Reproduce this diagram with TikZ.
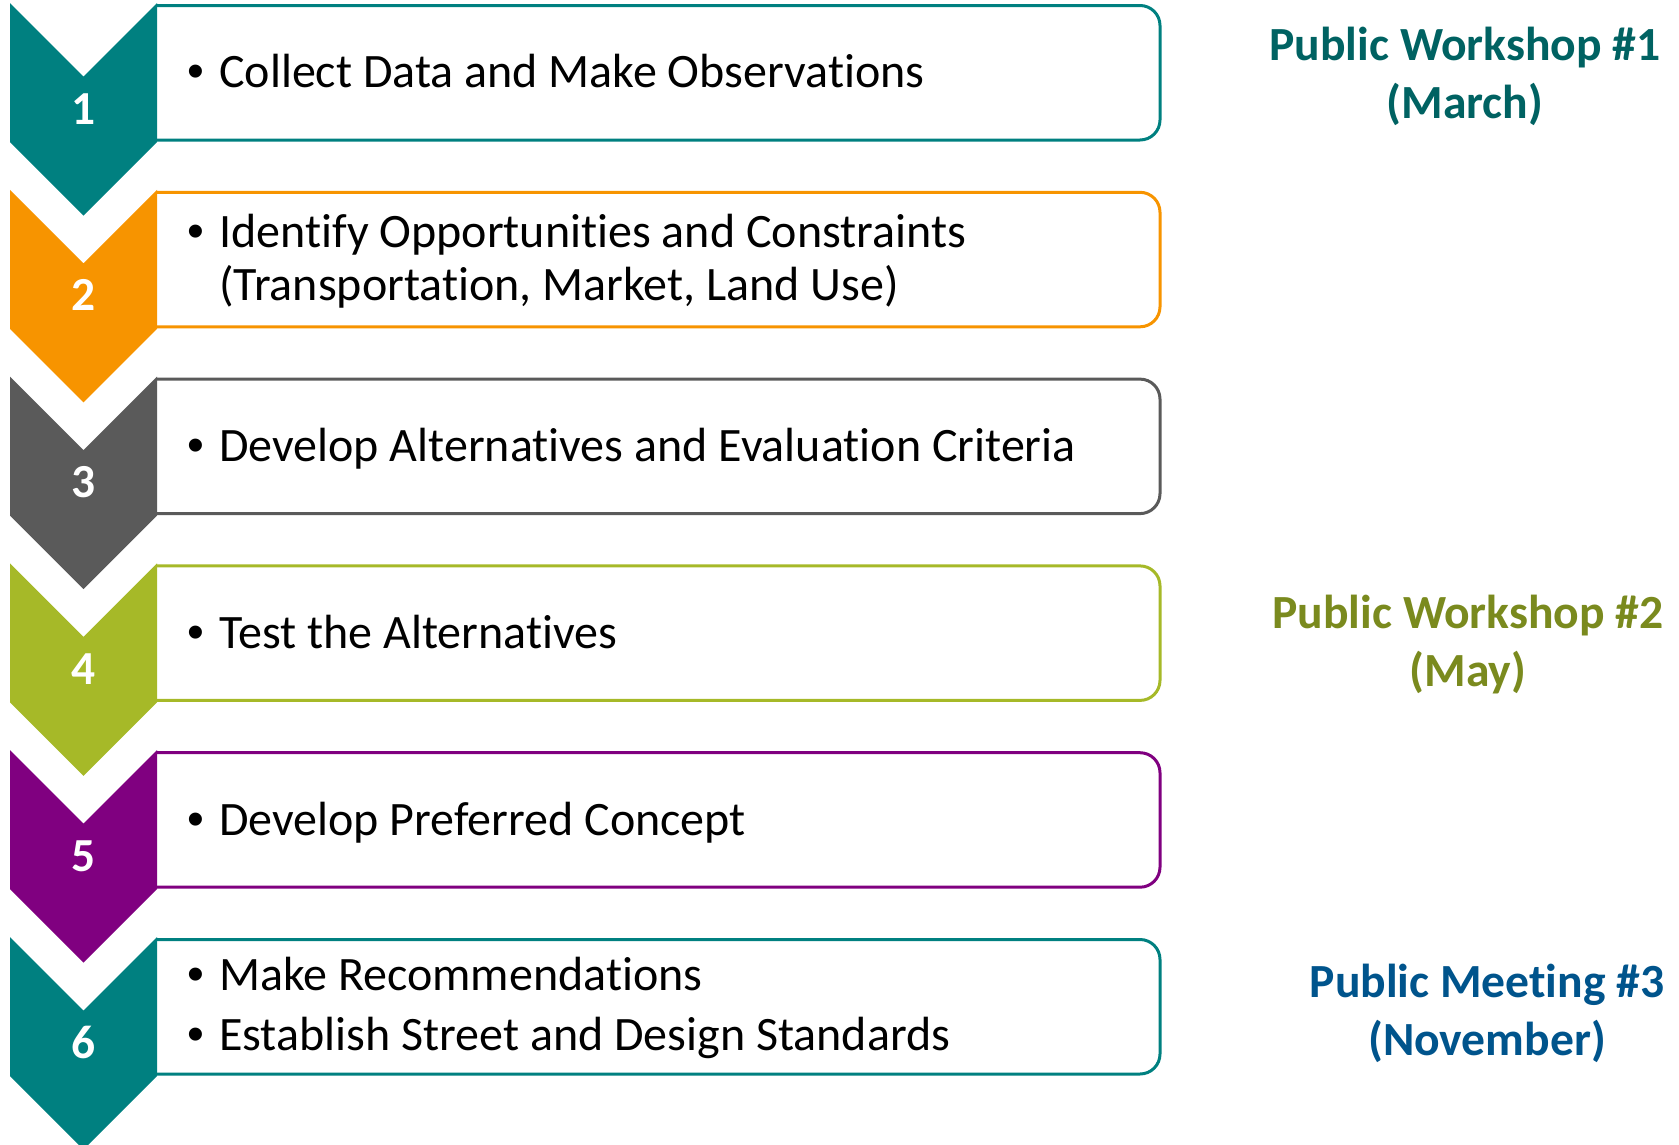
\documentclass[tikz,border=0pt]{standalone}
\usepackage{fontspec}
\setmainfont{Carlito}[Ligatures=NoCommon]
\newfontfamily\bulletfont{Liberation Sans}

\definecolor{stepteal}{RGB}{0,128,128}
\definecolor{steporange}{RGB}{247,148,0}
\definecolor{stepgray}{RGB}{90,90,90}
\definecolor{stepgreen}{RGB}{166,185,40}
\definecolor{steppurple}{RGB}{128,0,128}
\definecolor{labteal}{RGB}{0,98,98}
\definecolor{labolive}{RGB}{122,138,30}
\definecolor{labblue}{RGB}{0,84,140}

\tikzset{
  stepframe/.style={draw=#1, line width=3pt, rounded corners=20pt},
  stepnum/.style={text=white, inner sep=0pt, anchor=base,
    font=\fontsize{47.4}{57}\selectfont\bfseries},
  itemtext/.style={inner sep=0pt, anchor=base west, text=black,
    font=\fontsize{48}{57}\selectfont},
  itembullet/.style={inner sep=0pt, anchor=base, text=black,
    font=\bulletfont\fontsize{48}{57}\selectfont},
  meetlabel/.style={inner sep=0pt, anchor=base,
    font=\fontsize{47.6}{57}\selectfont\bfseries}
}

\begin{document}
\begin{tikzpicture}[x=1pt,y=-1pt]
\useasboundingbox (0,0) rectangle (1679,1144);

% six steps: framed box on the right, chevron with the step number on the left
\foreach \i/\c in {0/stepteal,1/steporange,2/stepgray,3/stepgreen,4/steppurple,5/stepteal}{
  \pgfmathsetmacro\T{3+186.8*\i}
  \draw[stepframe=\c] (157,\T+2.5) -- (1160,\T+2.5) -- (1160,\T+137) -- (157,\T+137);
  \fill[\c] (10,\T) -- (83.5,\T+73.5) -- (157,\T) -- (157,\T+139)
            -- (83.5,\T+212.5) -- (10,\T+139) -- cycle;
  \pgfmathtruncatemacro\n{\i+1}
  \node[stepnum] (num\n) at (83.5,\T+121) {\n};
}

% step 1
\node[itembullet] (b1) at (196,87) {•};
\node[itemtext] (s1) at (219,87) {Collect Data and Make Observations};
% step 2
\node[itembullet] (b2) at (196,247) {•};
\node[itemtext] (s2a) at (219,247) {Identify Opportunities and Constraints};
\node[itemtext] (s2b) at (219,300) {(Transportation, Market, Land Use)};
% step 3
\node[itembullet] (b3) at (196,461.6) {•};
\node[itemtext] (s3) at (219,461.6) {Develop Alternatives and Evaluation Criteria};
% step 4
\node[itembullet] (b4) at (196,648.4) {•};
\node[itemtext] (s4) at (219,648.4) {Test the Alternatives};
% step 5
\node[itembullet] (b5) at (196,835.2) {•};
\node[itemtext] (s5) at (219,835.2) {Develop Preferred Concept};
% step 6
\node[itembullet] (b6a) at (196,990) {•};
\node[itemtext] (s6a) at (219,990) {Make Recommendations};
\node[itembullet] (b6b) at (196,1050) {•};
\node[itemtext] (s6b) at (219,1050) {Establish Street and Design Standards};

% public events
\node[meetlabel, text=labteal] (w1a) at (1465,60.5) {Public Workshop \#1};
\node[meetlabel, text=labteal] (w1b) at (1465,118) {(March)};
\node[meetlabel, text=labolive] (w2a) at (1468,628.5) {Public Workshop \#2};
\node[meetlabel, text=labolive] (w2b) at (1468,686) {(May)};
\node[meetlabel, text=labblue] (m3a) at (1487,997) {Public Meeting \#3};
\node[meetlabel, text=labblue] (m3b) at (1487,1055) {(November)};
\end{tikzpicture}
\end{document}
